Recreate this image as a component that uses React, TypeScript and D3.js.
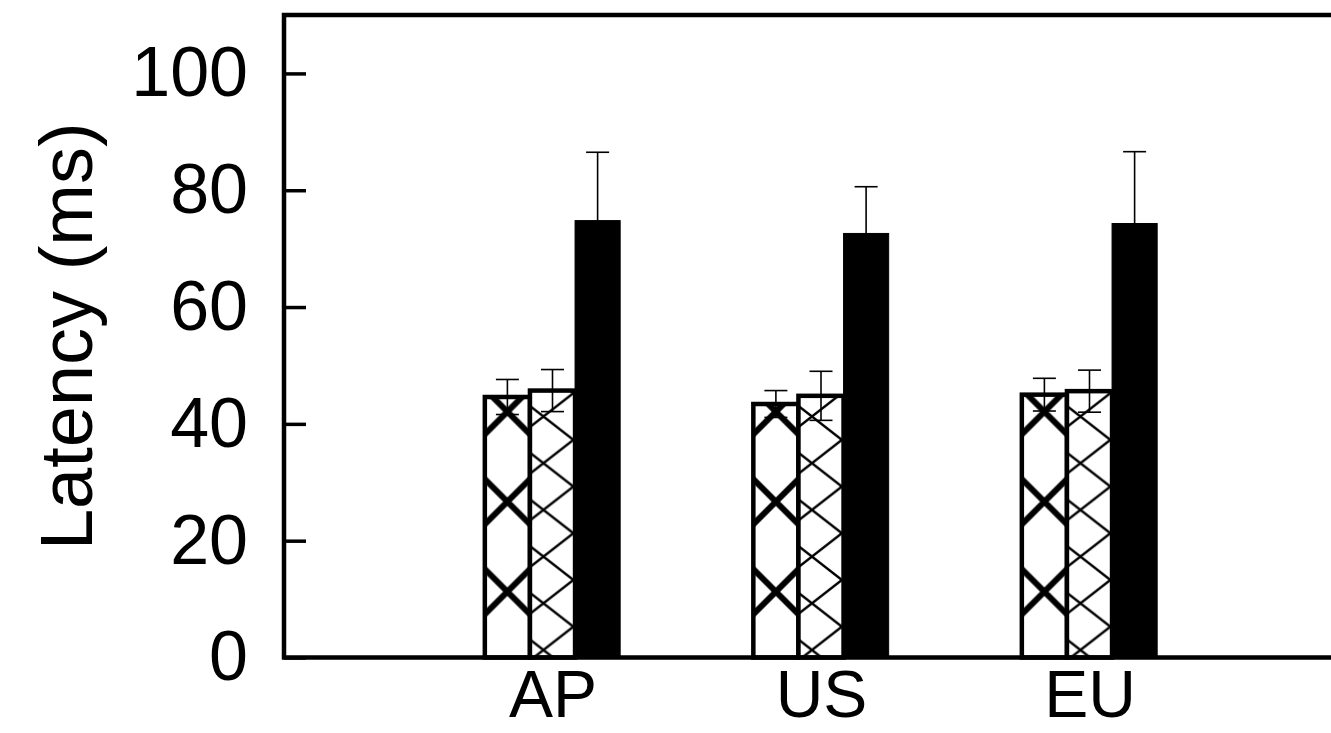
import * as d3 from "d3";
import { useEffect, useRef } from "react";

// regions on the x axis
const categories = ["AP", "US", "EU"];

// three series per region, mean latency (ms) and error bar half-width
const hatchBig = [44.6, 43.4, 45.0];
const hatchBigErr = [3.0, 2.3, 2.8];
const hatchSmall = [45.7, 44.8, 45.6];
const hatchSmallErr = [3.6, 4.2, 3.6];
const solid = [74.8, 72.6, 74.3];
const solidErr = [11.7, 8.0, 12.3];

const yTicks = [0, 20, 40, 60, 80, 100];

export default function App() {
  const ref = useRef<SVGSVGElement | null>(null);

  useEffect(() => {
    if (!ref.current) return;
    const svg = d3.select(ref.current);
    svg.selectAll("*").remove();

    const width = 1331,
      height = 733,
      margin = { top: 15, left: 284, bottom: 75.5 };
    const font = "'Liberation Sans', Arial, Helvetica, sans-serif";

    svg.attr("width", width).attr("height", height);

    // x is a slot index: 0 at the left axis, regions at 1..3
    const x = d3.scaleLinear().domain([0, 4]).range([margin.left, margin.left + 4 * 268.5]);
    const y = d3
      .scaleLinear()
      .domain([0, 110])
      .range([height - margin.bottom, margin.top]);

    const barW = 0.168; // in slot units
    const series = [
      { values: hatchBig, err: hatchBigErr, kind: "big" },
      { values: hatchSmall, err: hatchSmallErr, kind: "small" },
      { values: solid, err: solidErr, kind: "solid" },
    ];

    const defs = svg.append("defs");

    // hatch patterns, one per bar so the crossing lines up with the bar
    categories.forEach((c, ci) => {
      const left1 = x(ci + 1 - 1.5 * barW);
      const left2 = x(ci + 1 - 0.5 * barW);
      const bw = x(barW) - x(0);

      const p1 = defs
        .append("pattern")
        .attr("id", `big-${ci}`)
        .attr("patternUnits", "userSpaceOnUse")
        .attr("width", 90)
        .attr("height", 90)
        .attr("x", left1 + bw / 2 - 45)
        .attr("y", 591.7 - 45);
      p1.append("rect").attr("width", 90).attr("height", 90).attr("fill", "#fff");
      p1.append("path")
        .attr("d", "M0,0L90,90M90,0L0,90")
        .attr("stroke", "#000")
        .attr("stroke-width", 6);

      const p2 = defs
        .append("pattern")
        .attr("id", `small-${ci}`)
        .attr("patternUnits", "userSpaceOnUse")
        .attr("width", 60)
        .attr("height", 46.7)
        .attr("x", left2 + 13.5 - 30)
        .attr("y", 603.3 - 23.35);
      p2.append("rect").attr("width", 60).attr("height", 46.7).attr("fill", "#fff");
      p2.append("path")
        .attr("d", "M0,0L60,46.7M60,0L0,46.7")
        .attr("stroke", "#000")
        .attr("stroke-width", 2.5);
    });

    const g = svg.append("g");

    // Bars
    categories.forEach((c, ci) => {
      series.forEach((s, si) => {
        const left = x(ci + 1 + (si - 1.5) * barW);
        const w = x(barW) - x(0);
        const v = s.values[ci];
        g.append("rect")
          .attr("x", left)
          .attr("y", y(v))
          .attr("width", w)
          .attr("height", y(0) - y(v))
          .attr("fill", s.kind === "solid" ? "#000" : `url(#${s.kind}-${ci})`)
          .attr("stroke", "#000")
          .attr("stroke-width", s.kind === "solid" ? 1 : 4.5);
      });
    });

    // Error bars
    categories.forEach((c, ci) => {
      series.forEach((s, si) => {
        const cx = x(ci + 1 + (si - 1) * barW);
        const v = s.values[ci],
          e = s.err[ci];
        const eg = g.append("g").attr("stroke", "#000").attr("stroke-width", 1.6);
        eg.append("line").attr("x1", cx).attr("x2", cx).attr("y1", y(v - e)).attr("y2", y(v + e));
        eg.append("line").attr("x1", cx - 11.5).attr("x2", cx + 11.5).attr("y1", y(v + e)).attr("y2", y(v + e));
        eg.append("line").attr("x1", cx - 11.5).attr("x2", cx + 11.5).attr("y1", y(v - e)).attr("y2", y(v - e));
      });
    });

    // Y axis, ticks pointing inwards
    const yAxis = svg
      .append("g")
      .attr("transform", `translate(${margin.left}, 0)`)
      .call(d3.axisLeft(y).tickValues(yTicks).tickSizeInner(-22).tickSizeOuter(0).tickPadding(36));
    yAxis.select(".domain").remove();
    yAxis.selectAll("line").attr("stroke", "#000").attr("stroke-width", 3.5);
    yAxis
      .selectAll("text")
      .attr("fill", "#000")
      .attr("font-size", "70px")
      .attr("font-family", font);

    // X axis labels
    const xAxis = svg
      .append("g")
      .attr("transform", `translate(0, ${y(0)})`)
      .call(
        d3
          .axisBottom(x)
          .tickValues([1, 2, 3])
          .tickFormat((d) => categories[(d as number) - 1])
          .tickSize(0)
          .tickPadding(13)
      );
    xAxis.select(".domain").remove();
    xAxis
      .selectAll("text")
      .attr("fill", "#000")
      .attr("font-size", "66px")
      .attr("font-family", font);

    // Frame: left, top, bottom
    svg.append("path")
      .attr("d", `M${width + 10},${y(110)}H${margin.left}V${y(0)}H${width + 10}`)
      .attr("fill", "none")
      .attr("stroke", "#000")
      .attr("stroke-width", 4.5);

    // Y-axis label
    svg.append("text")
      .attr("transform", `translate(92, ${(y(0) + y(110)) / 2}) rotate(-90)`)
      .attr("text-anchor", "middle")
      .attr("fill", "#000")
      .attr("font-size", "74px")
      .attr("font-family", font)
      .text("Latency (ms)");
  }, []);

  return <svg ref={ref} style={{ position: "absolute", left: 0, top: 0, background: "#fff" }} />;
}
